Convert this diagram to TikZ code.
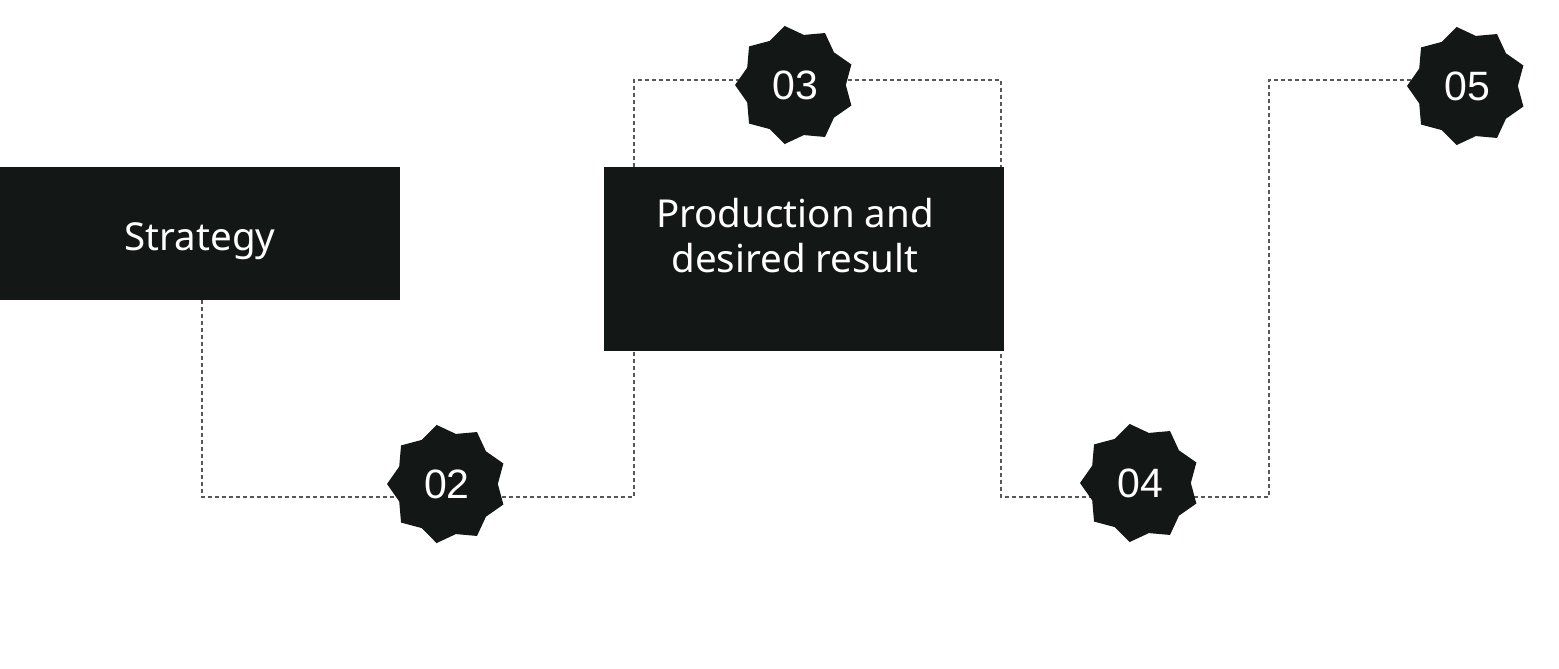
\documentclass[tikz,border=0pt]{standalone}
\usepackage{fontspec}
\setmainfont{Noto Sans}
\newfontfamily\numfont{Liberation Sans}
\usetikzlibrary{shapes.geometric,backgrounds}
\definecolor{inkblack}{RGB}{19,24,23}
\definecolor{linegray}{RGB}{88,88,88}

\begin{document}
\begin{tikzpicture}[x=1pt,y=-1pt,
    stagebox/.style={fill=inkblack, inner sep=0pt, minimum width=400pt},
    stagetext/.style={text=white, font=\fontsize{38.5}{45}\selectfont, align=center},
    badge/.style={star, star points=9, star point ratio=1.18, shape border rotate=10,
        fill=inkblack, text=white, inner sep=0pt, minimum size=120pt,
        font=\numfont\fontsize{41}{41}\selectfont},
    link/.style={draw=linegray, line width=1.5pt, dash pattern=on 4pt off 3pt}]
    \useasboundingbox (0,0) rectangle (1559,669);
    % stages
    \node[stagebox, minimum height=133pt, stagetext, text height=34pt, text depth=0pt]
        (strat) at (200,233) {Strategy};
    \node[stagebox, minimum height=184pt] (prod) at (804,259) {};
    \node[stagetext] (prodtext) at (795,236) {Production and\\desired result};
    % badges
    \node[badge] (b02) at (447,484) {02};
    \node[badge] (b03) at (795,85) {03};
    \node[badge] (b04) at (1140,483) {04};
    \node[badge] (b05) at (1467,86) {05};
    % dashed route
    \coordinate (c1) at (202,497);
    \coordinate (c2) at (634,497);
    \coordinate (c3) at (634,80);
    \coordinate (c4) at (1001,80);
    \coordinate (c5) at (1001,497);
    \coordinate (c6) at (1269,497);
    \coordinate (c7) at (1269,80);
    \begin{scope}[on background layer]
        \draw[link] (c1 |- strat.south) -- (c1) -- (c2) -- (c3) -- (c4)
            -- (c5) -- (c6) -- (c7) -- (c7 -| b05.center);
    \end{scope}
\end{tikzpicture}
\end{document}
